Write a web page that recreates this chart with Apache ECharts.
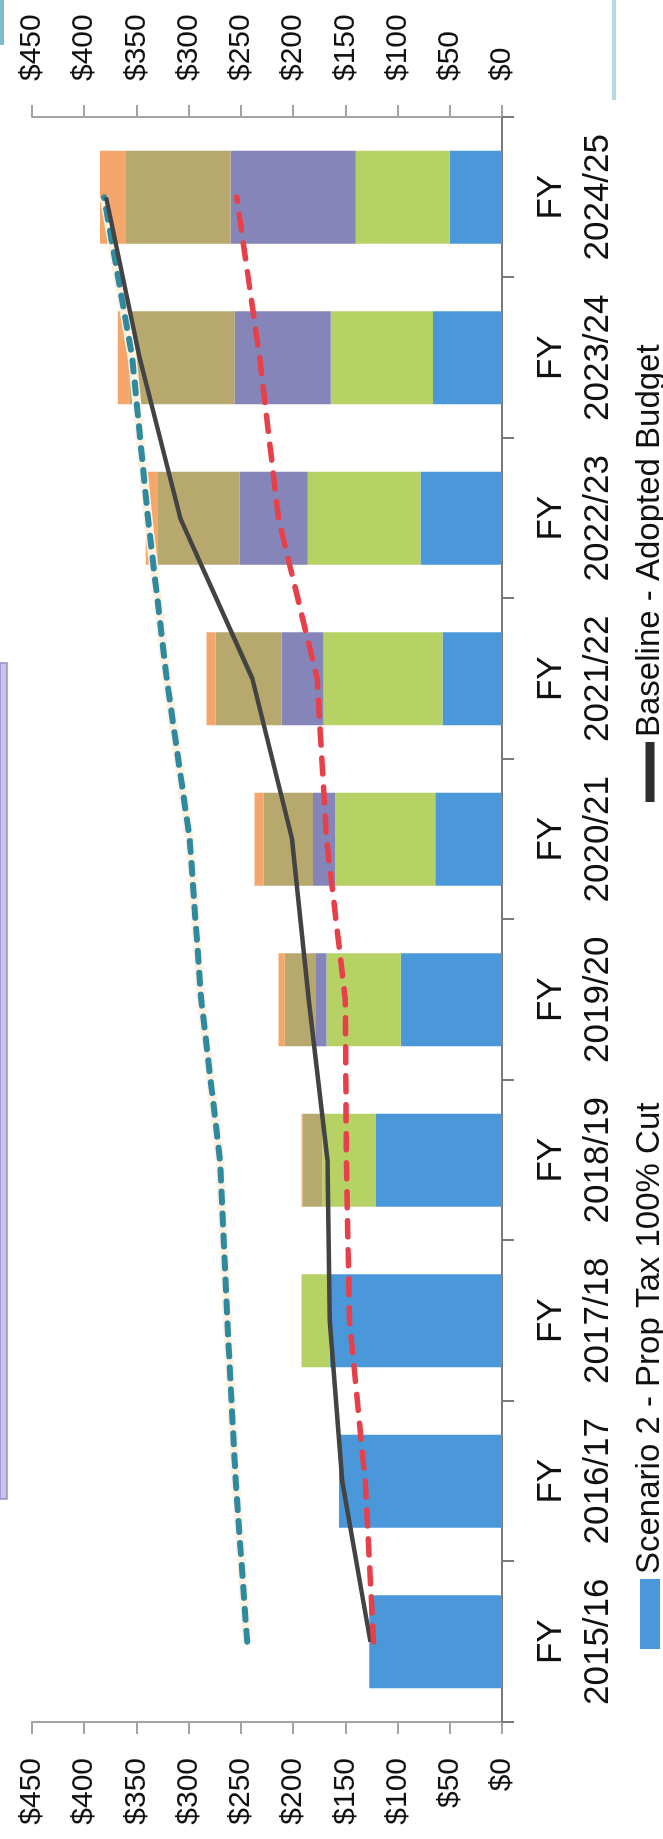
<!DOCTYPE html>
<html>
<head>
<meta charset="utf-8">
<script src="https://cdn.jsdelivr.net/npm/echarts@6/dist/echarts.min.js"></script>
<style>
  html, body { margin: 0; padding: 0; background: #ffffff; width: 663px; height: 1839px; overflow: hidden; }
  /* The chart is laid out landscape and turned a quarter-turn counter-clockwise onto the portrait page */
  #chart {
    position: absolute; left: 0; top: 0;
    width: 1839px; height: 663px;
    transform-origin: 0 0;
    transform: translateY(1839px) rotate(-90deg);
  }
</style>
</head>
<body>
<div id="chart"></div>
<script>
// Fiscal years
const categories = ['FY\n2015/16', 'FY\n2016/17', 'FY\n2017/18', 'FY\n2018/19', 'FY\n2019/20',
                    'FY\n2020/21', 'FY\n2021/22', 'FY\n2022/23', 'FY\n2023/24', 'FY\n2024/25'];

// Stacked components ($ millions)
const propTaxCut = [127, 156, 165, 121, 97, 64, 57, 78, 66, 50];
const series2    = [0, 0, 27, 51, 71, 96, 114, 108, 98, 90];
const series3    = [0, 0, 0, 0, 10, 21, 40, 65, 92, 120];
const series4    = [0, 0, 0, 19, 30, 47, 63, 79, 101, 100];
const series5    = [0, 0, 0, 1, 6, 9, 9, 11, 11, 25];

// Trend lines ($ millions)
const baselineAdopted = [126, 153, 165, 167, 185, 201, 239, 308, 347, 379];
const scenarioRed     = [123, 131, 146, 149, 150, 168, 177, 214, 232, 254];
const scenarioTeal    = [244, 255, 263, 270, 288, 299, 321, 339, 354, 381];

// Value axis ticks
const axisMin = 0, axisMax = 450, axisStep = 50;

const FONT = '"Liberation Sans", Arial, sans-serif';
const AXIS_GREY = '#a3a3a3';

function valueAxis(pos) {
  return {
    type: 'value', position: pos,
    min: axisMin, max: axisMax, interval: axisStep,
    axisLine: { show: true, onZero: false, lineStyle: { color: AXIS_GREY, width: 2 } },
    axisTick: { show: true, length: 12, lineStyle: { color: AXIS_GREY, width: 2 } },
    splitLine: { show: false },
    axisLabel: {
      margin: 36, fontSize: 30, color: '#111', fontFamily: FONT,
      formatter: v => '$' + v
    }
  };
}

function bar(name, data, color) {
  return {
    name, type: 'bar', stack: 'total', data, barWidth: 93,
    itemStyle: { color }, emphasis: { disabled: true }
  };
}

const chart = echarts.init(document.getElementById('chart'), null, { renderer: 'canvas' });
chart.setOption({
  animation: false,
  backgroundColor: '#ffffff',
  grid: { left: 117, right: 117, top: 32, bottom: 161 },
  xAxis: {
    type: 'category', data: categories, boundaryGap: true,
    axisLine: { show: true, lineStyle: { color: '#7a7a7a', width: 2 } },
    axisTick: { show: true, length: 12, lineStyle: { color: '#7a7a7a', width: 2 } },
    axisLabel: { margin: 26, fontSize: 35, lineHeight: 47, color: '#111', fontFamily: FONT, interval: 0 }
  },
  yAxis: [valueAxis('left'), valueAxis('right')],
  legend: [
    {
      data: ['Scenario 2 - Prop Tax 100% Cut'],
      left: 190, top: 633, padding: 0,
      icon: 'rect', itemWidth: 70, itemHeight: 20,
      textStyle: { fontSize: 33, lineHeight: 34, color: '#111', fontFamily: FONT }
    },
    {
      data: [{ name: 'Baseline - Adopted Budget', icon: 'rect', itemStyle: { color: '#2e2e2e', borderWidth: 0 } }],
      left: 1037, top: 633, padding: 0,
      itemWidth: 60, itemHeight: 9,
      textStyle: { fontSize: 33, lineHeight: 34, color: '#111', fontFamily: FONT }
    }
  ],
  graphic: [
    { type: 'rect', shape: { x: 340, y: 0, width: 836, height: 7 },
      style: { fill: '#c9c4ec', stroke: '#978fd0', lineWidth: 1.5 }, silent: true },
    { type: 'rect', shape: { x: 1739, y: 612, width: 100, height: 4 },
      style: { fill: '#b5d9e3' }, silent: true },
    { type: 'rect', shape: { x: 1794, y: 0, width: 45, height: 4 },
      style: { fill: '#7dbccb' }, silent: true }
  ],
  series: [
    bar('Scenario 2 - Prop Tax 100% Cut', propTaxCut, '#4a98d9'),
    bar('Series 2', series2, '#b6d164'),
    bar('Series 3', series3, '#8585b9'),
    bar('Series 4', series4, '#b7a86d'),
    bar('Series 5', series5, '#f5a66b'),
    {
      name: 'Scenario 3 halo', type: 'line', data: scenarioTeal, silent: true,
      symbol: 'none', showSymbol: false, z: 3,
      lineStyle: { color: '#fdf2e2', width: 9 }
    },
    {
      name: 'Scenario 3', type: 'line', data: scenarioTeal,
      symbol: 'none', showSymbol: false, z: 4,
      itemStyle: { color: '#2f8aa0' },
      lineStyle: { color: '#2f8aa0', width: 6, type: [11, 11], cap: 'round' }
    },
    {
      name: 'Baseline - Adopted Budget', type: 'line', data: baselineAdopted,
      symbol: 'none', showSymbol: false, z: 4,
      itemStyle: { color: '#2e2e2e' },
      lineStyle: { color: '#434343', width: 4.5 }
    },
    {
      name: 'Scenario 1', type: 'line', data: scenarioRed,
      symbol: 'none', showSymbol: false, z: 5,
      itemStyle: { color: '#e8404a' },
      lineStyle: { color: '#e8404a', width: 5.5, type: [16, 13], cap: 'round' }
    }
  ]
});
</script>
</body>
</html>
